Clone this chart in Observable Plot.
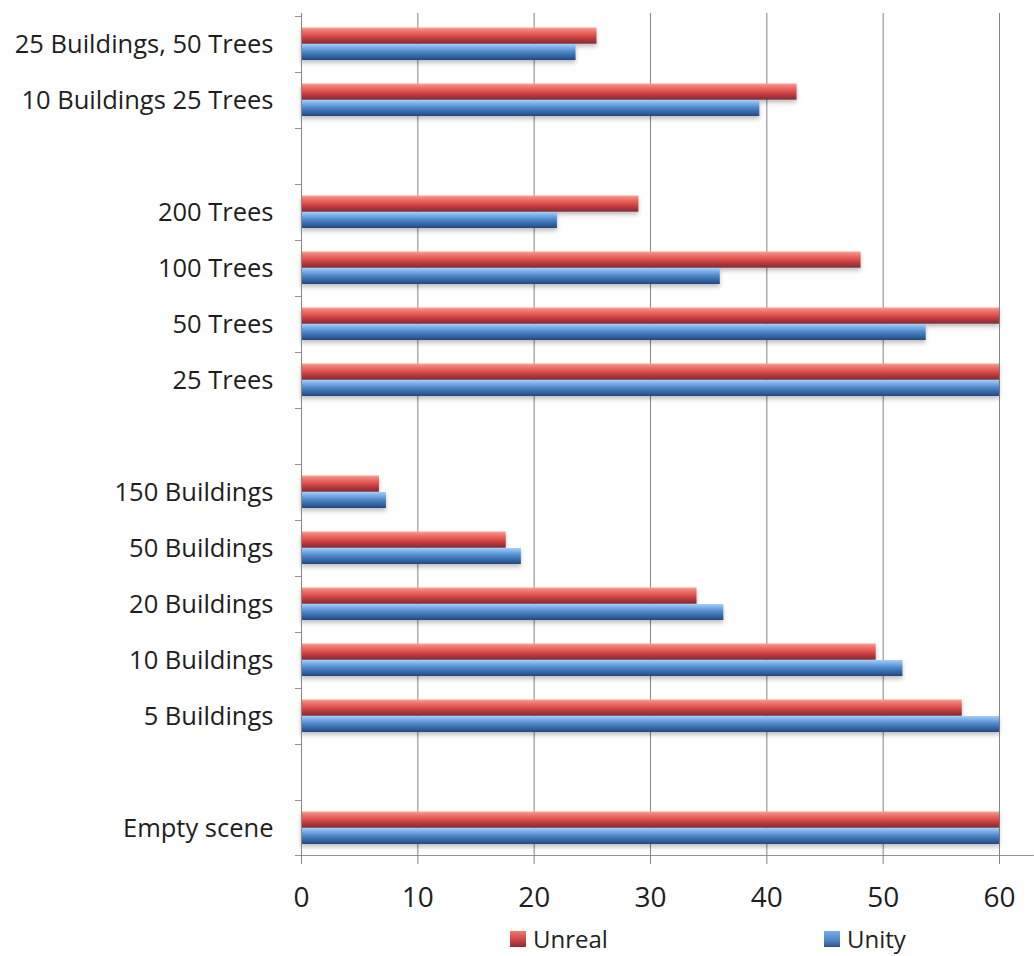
<!DOCTYPE html>
<html>
<head>
<meta charset="utf-8">
<script src="https://cdn.jsdelivr.net/npm/d3@7"></script>
<script src="https://cdn.jsdelivr.net/npm/@observablehq/plot@0.6"></script>
<style>
  html, body { margin: 0; padding: 0; background: #fff; }
  #chart { position: relative; width: 1034px; }
  #legend { position: relative; width: 1034px; height: 41px; font-family: "Open Sans", sans-serif; font-size: 24px; color: #222; }
  .item { position: absolute; top: 7px; display: flex; align-items: center; }
  .swatch { width: 16px; height: 16px; margin-right: 7px; }
</style>
</head>
<body>
<div id="chart"></div>
<div id="legend"></div>
<script>
// Categories top to bottom (whitespace entries are the empty spacer slots)
const categories = [
  "25 Buildings, 50 Trees", "10 Buildings 25 Trees", " ",
  "200 Trees", "100 Trees", "50 Trees", "25 Trees", "  ",
  "150 Buildings", "50 Buildings", "20 Buildings", "10 Buildings", "5 Buildings", "   ",
  "Empty scene"
];
const unrealValues = [25.4, 42.6, null, 29.0, 48.1, 60, 60, null, 6.7, 17.6, 34.0, 49.4, 56.8, null, 60];
const unityValues  = [23.6, 39.4, null, 22.0, 36.0, 53.7, 60, null, 7.3, 18.9, 36.3, 51.7, 60, null, 60];
const seriesNames = ["Unreal", "Unity"];
const xTicks = [0, 10, 20, 30, 40, 50, 60];

const rows = [];
categories.forEach((c, i) => {
  if (unrealValues[i] != null) rows.push({category: c, series: "Unreal", value: unrealValues[i]});
  if (unityValues[i] != null) rows.push({category: c, series: "Unity", value: unityValues[i]});
});

const W = 1034, H = 915, mT = 13, mB = 57, mL = 301, mR = 35;
const bw = (H - mT - mB) / categories.length;
const gray = "#858585";

const chart = Plot.plot({
  width: W, height: H,
  marginTop: mT, marginBottom: mB, marginLeft: mL, marginRight: mR,
  style: {fontFamily: "Open Sans, sans-serif", fontSize: "25px", color: "#1e1e1e", background: "#fff"},
  x: {domain: [0, 60], ticks: xTicks, label: null},
  y: {domain: categories, padding: 0, label: null},
  marks: [
    Plot.gridX(xTicks.slice(1), {stroke: gray, strokeOpacity: 1}),
    Plot.barX(rows.filter(d => d.series === "Unreal"), {
      y: "category", x: "value", fill: "url(#gRed)", insetTop: 11.5, insetBottom: bw - 28
    }),
    Plot.barX(rows.filter(d => d.series === "Unity"), {
      y: "category", x: "value", fill: "url(#gBlue)", insetTop: 28, insetBottom: 12
    }),
    // y axis line
    Plot.ruleX([0], {stroke: gray}),
    // y tick marks at slot boundaries
    Plot.barX(categories, {y: d => d, x1: -0.52, x2: 0, insetBottom: bw - 1.2, fill: gray}),
    // x axis line (extends past the frame)
    Plot.barX([categories[categories.length - 1]], {y: d => d, x1: -0.52, x2: 63, insetTop: bw - 1.2, fill: gray}),
    Plot.axisX({ticks: xTicks, tickSize: 6, tickPadding: 23, fontSize: 28, stroke: gray, fill: "#1e1e1e", label: null}),
    Plot.axisY({tickSize: 0, tickPadding: 28, fontSize: 25.5, fill: "#1e1e1e", label: null})
  ]
});

// gradients and shadow for the 3D bar look
const ns = "http://www.w3.org/2000/svg";
const defs = document.createElementNS(ns, "defs");
defs.innerHTML = `
  <linearGradient id="gRed" x1="0" y1="0" x2="0" y2="1">
    <stop offset="0%" stop-color="#f7a099"/>
    <stop offset="22%" stop-color="#f0736c"/>
    <stop offset="50%" stop-color="#dc4f4b"/>
    <stop offset="80%" stop-color="#aa343a"/>
    <stop offset="100%" stop-color="#7b2a36"/>
  </linearGradient>
  <linearGradient id="gBlue" x1="0" y1="0" x2="0" y2="1">
    <stop offset="0%" stop-color="#a6cdf6"/>
    <stop offset="22%" stop-color="#78afe9"/>
    <stop offset="50%" stop-color="#4a84c6"/>
    <stop offset="80%" stop-color="#31629c"/>
    <stop offset="100%" stop-color="#24487a"/>
  </linearGradient>
  <filter id="shadow" x="-5%" y="-40%" width="110%" height="200%">
    <feDropShadow dx="0" dy="3" stdDeviation="2" flood-color="#000" flood-opacity="0.25"/>
  </filter>`;
chart.insertBefore(defs, chart.firstChild);
const barGroups = chart.querySelectorAll('g[aria-label="bar"]');
[0, 1].forEach(k => barGroups[k] && barGroups[k].setAttribute("filter", "url(#shadow)"));

document.getElementById("chart").appendChild(chart);

// legend
const legend = document.getElementById("legend");
const legendItems = [
  {name: seriesNames[0], grad: "linear-gradient(#f27a72, #c8403f 60%, #8b2c35)", left: 510},
  {name: seriesNames[1], grad: "linear-gradient(#78afe9, #4a84c6 60%, #2a5588)", left: 824}
];
legendItems.forEach(it => {
  const d = document.createElement("div");
  d.className = "item";
  d.style.left = it.left + "px";
  const s = document.createElement("span");
  s.className = "swatch";
  s.style.background = it.grad;
  const t = document.createElement("span");
  t.textContent = it.name;
  d.appendChild(s); d.appendChild(t);
  legend.appendChild(d);
});
</script>
</body>
</html>
